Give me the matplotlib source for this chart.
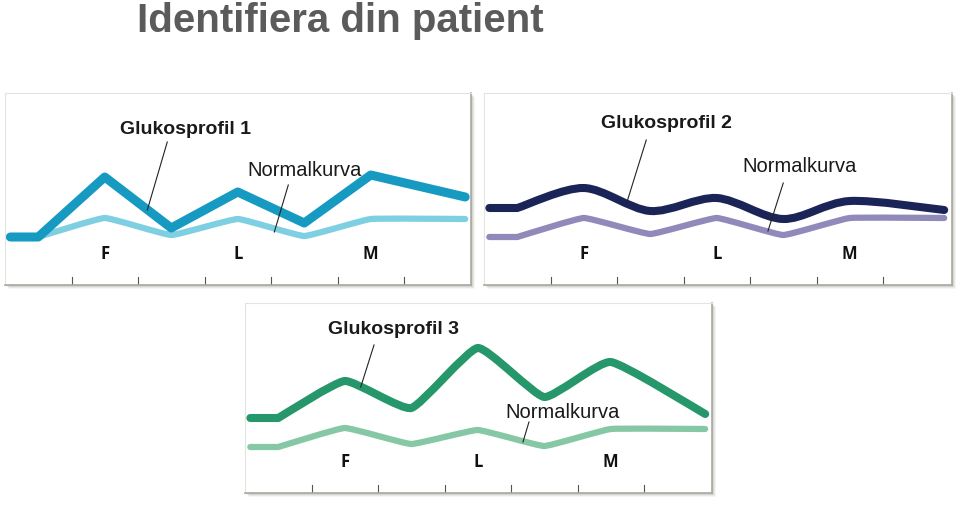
## Three glucose profiles against a normal curve
import matplotlib
matplotlib.use('Agg')
import matplotlib.pyplot as plt
from matplotlib.path import Path
from matplotlib.patches import PathPatch, Rectangle
import numpy as np

W, H = 960, 505  # figure size [px]

## Data (arbitrary glucose level units)
x_pts = [0.08, 0.5, 1.5, 2.5, 3.5, 4.5, 5.5, 6.92]  # time position, tick units
meal_pos = [1.5, 3.5, 5.5]
meal_labels = ['F', 'L', 'M']
tick_pos = [1, 2, 3, 4, 5, 6]

profil1 = [48, 48, 108, 57, 93, 62, 110, 88]
normal1 = [48, 48, 67, 50, 66, 49, 66, 66]
profil2 = [77, 77, 97, 74, 87, 66, 84, 75]
normal2 = [48, 48, 67, 51, 67, 50, 67, 67]
profil3 = [75, 75, 112, 85, 145, 96, 131, 79]
normal3 = [46, 46, 65, 49, 63, 47, 64, 64]

titles = ['Glukosprofil 1', 'Glukosprofil 2', 'Glukosprofil 3']
normal_text = 'Normalkurva'

fig = plt.figure(figsize=(W/100, H/100), dpi=100)
fig.patch.set_facecolor('white')
plt.rcParams['font.family'] = ['Liberation Sans', 'DejaVu Sans']

fig.text(137/W, 1 - 32/H, 'Identifiera din patient', fontsize=29,
         fontweight='bold', color='#5b5b5b', ha='left', va='baseline')


def smooth_path(x, y, s):
    # Catmull-Rom style bezier through the points (s=0 gives straight segments)
    p = np.column_stack([x, y]).astype(float)
    n = len(p)
    verts = [p[0]]
    codes = [Path.MOVETO]
    for i in range(n - 1):
        p0 = p[max(i - 1, 0)]
        p3 = p[min(i + 2, n - 1)]
        c1 = p[i] + s*(p[i + 1] - p0)/6.
        c2 = p[i + 1] - s*(p3 - p[i])/6.
        if i == 0:
            c1, c2 = p[0], p[1]  # keep the flat start straight
        if i == 1:
            c1 = p[1] + s*(p[2] - p[1])/6.
        verts += [c1, c2, p[i + 1]]
        codes += [Path.CURVE4]*3
    return Path(verts, codes)


def panel(left, top, width, height, main, normal, col_main, col_norm,
          lw_main, lw_norm, s_main, s_norm, title, tpos, tline, npos, nline):
    # soft shadow behind the box
    for k, a in [(4, 0.08), (3, 0.12), (2, 0.18), (1, 0.25)]:
        fig.patches.append(Rectangle(((left + k)/W, 1 - (top + height + k)/H),
                                     width/W, height/H, transform=fig.transFigure,
                                     facecolor='#8a8a80', edgecolor='none', alpha=a,
                                     zorder=-5))
    ax = fig.add_axes([left/W, 1 - (top + height)/H, width/W, height/H])
    ax.set_facecolor('white')
    ax.set_xlim(0, width/66.5)
    ax.set_ylim(0, height)
    ax.set_xticks([])
    ax.set_yticks([])
    for side in ['top', 'left']:
        ax.spines[side].set_color('#e4e4de')
    for side in ['right', 'bottom']:
        ax.spines[side].set_color('#a9a9a1')
        ax.spines[side].set_linewidth(1.2)
    ax.add_patch(PathPatch(smooth_path(x_pts, normal, s_norm), facecolor='none',
                           edgecolor=col_norm, lw=lw_norm, capstyle='round',
                           joinstyle='round'))
    ax.add_patch(PathPatch(smooth_path(x_pts, main, s_main), facecolor='none',
                           edgecolor=col_main, lw=lw_main, capstyle='round',
                           joinstyle='round'))
    for t in tick_pos:
        ax.plot([t, t], [0, 8], color='#555555', lw=0.8)
    for xm, lab in zip(meal_pos, meal_labels):
        ax.text(xm, 31, lab, fontsize=12, fontweight='bold', family='Open Sans',
                ha='center', va='center', color='#111111')
    ax.text(tpos[0], tpos[1], title, fontsize=14, fontweight='bold',
            ha='center', va='center', color='#1a1a1a')
    ax.plot(tline[0], tline[1], color='#222222', lw=0.8)
    ax.text(npos[0], npos[1], normal_text, fontsize=14.5,
            ha='center', va='center', color='#1a1a1a')
    ax.plot(nline[0], nline[1], color='#222222', lw=0.8)
    return ax


panel(5, 93, 466, 192, profil1, normal1, '#169ac1', '#7fcfe2', 6.5, 4.5, 0.0, 0.3,
      titles[0], (2.72, 155), ([2.44, 2.14], [143, 75]),
      (4.50, 115), ([4.26, 4.05], [100, 53]))
panel(484, 93, 468, 192, profil2, normal2, '#1b2457', '#8f8ab9', 5.8, 4.5, 0.9, 0.3,
      titles[1], (2.74, 162), ([2.44, 2.15], [145, 83]),
      (4.75, 118), ([4.50, 4.27], [102, 54]))
panel(245, 303, 467, 190, profil3, normal3, '#25976b', '#86c8a6', 5.8, 4.5, 0.45, 0.3,
      titles[2], (2.23, 163), ([1.94, 1.74], [148, 106]),
      (4.77, 80), ([4.27, 4.18], [71, 51]))

fig.savefig('out.png', dpi=100, facecolor='white')
